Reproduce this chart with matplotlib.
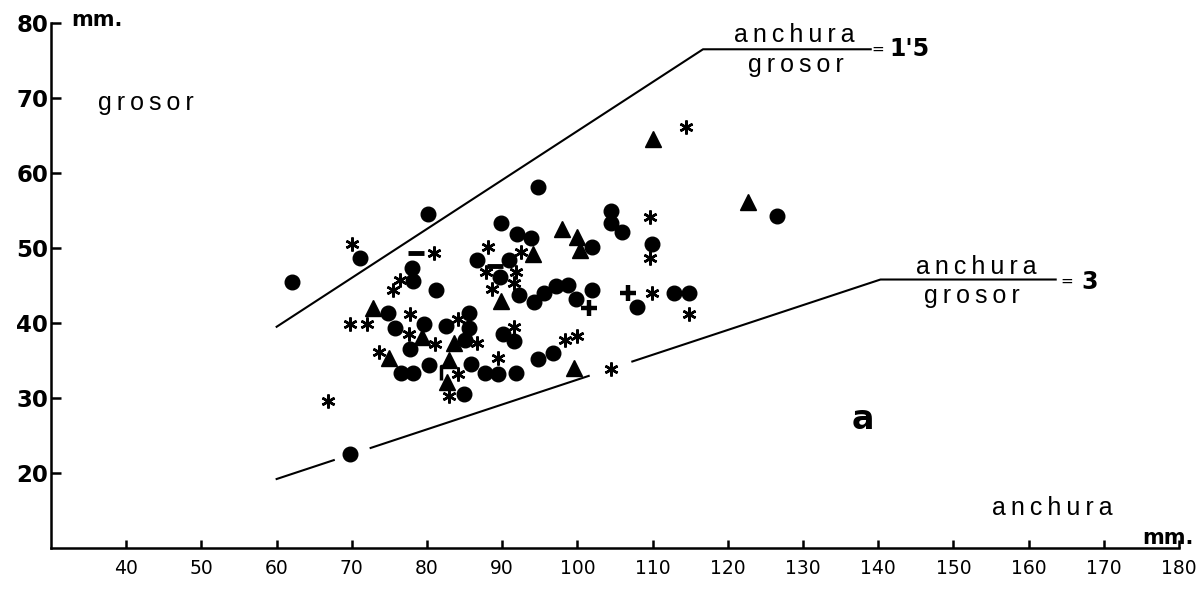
import numpy as np
import matplotlib
matplotlib.use("Agg")
import matplotlib.pyplot as plt
from matplotlib.path import Path

# anchura (x) / grosor (y) en mm, por tipo de símbolo
circ_x = [62.0, 69.7, 71.1, 74.8, 75.7, 76.5, 77.7, 78.0, 78.1, 78.2, 79.6, 80.1, 80.2,
          81.2, 82.5, 84.9, 85.0, 85.6, 85.6, 85.8, 86.6, 87.7, 89.5, 89.7, 89.9, 90.1,
          90.9, 91.5, 91.8, 91.9, 92.2, 93.8, 94.2, 94.7, 94.8, 95.5, 96.7, 97.1, 98.7,
          99.8, 101.9, 102.0, 104.4, 104.5, 105.9, 107.9, 109.9, 112.8, 114.8, 126.5]
circ_y = [45.5, 22.6, 48.7, 41.4, 39.4, 33.3, 36.6, 47.4, 45.6, 33.3, 39.9, 54.6, 34.4,
          44.4, 39.6, 30.5, 37.8, 41.4, 39.4, 34.5, 48.4, 33.3, 33.2, 46.2, 53.4, 38.6,
          48.4, 37.6, 33.3, 51.9, 43.8, 51.4, 42.8, 58.1, 35.2, 44.0, 36.0, 45.0, 45.1,
          43.2, 44.4, 50.2, 54.9, 53.3, 52.1, 42.2, 50.6, 44.0, 44.0, 54.3]

tri_x = [72.8, 74.9, 79.3, 82.6, 82.9, 83.6, 89.9, 94.1, 98.0, 99.6, 99.9, 100.3, 110.0, 122.7]
tri_y = [42.0, 35.3, 38.2, 32.1, 35.1, 37.3, 43.0, 49.2, 52.5, 34.0, 51.5, 49.8, 64.6, 56.1]

ast_x = [66.8, 69.7, 70.0, 72.0, 73.6, 75.5, 76.4, 77.6, 77.8, 80.9, 81.0, 82.9, 84.1,
         84.1, 86.7, 87.8, 88.1, 88.7, 89.5, 91.5, 91.5, 91.8, 92.5, 98.3, 100.0, 104.5,
         109.7, 109.7, 109.9, 114.5, 114.9]
ast_y = [29.6, 39.9, 50.6, 39.9, 36.2, 44.4, 45.8, 38.6, 41.2, 49.4, 37.2, 30.3, 40.5,
         33.2, 37.3, 46.8, 50.2, 44.5, 35.3, 39.5, 45.4, 46.8, 49.5, 37.8, 38.3, 33.9,
         54.1, 48.7, 44.0, 66.1, 41.2]

plus_x = [101.5, 106.7]
plus_y = [42.0, 44.0]

dash_x = [78.5, 89.0]
dash_y = [49.4, 47.6]

brk_x = [81.8]
brk_y = [33.3]

# rectas anchura/grosor = 1'5 y = 3 (puntos de quiebre)
sup_x = [60.0, 116.7, 139.0]
sup_y = [39.5, 76.5, 76.5]
inf_x = [60.0, 140.3, 163.6]
inf_y = [19.2, 45.8, 45.8]
inf_cortes = [(60.0, 67.6), (72.5, 101.5), (107.3, 163.6)]

xticks = [40, 50, 60, 70, 80, 90, 100, 110, 120, 130, 140, 150, 160, 170, 180]
yticks = [20, 30, 40, 50, 60, 70, 80]

plt.rcParams["font.family"] = ["DejaVu Sans"]
word_font = ["Liberation Sans", "DejaVu Sans"]

fig = plt.figure(figsize=(12.01, 5.89), dpi=100)
ax = fig.add_axes([0.0425, 0.0696, 0.9392, 0.8913])
ax.set_xlim(30, 180)
ax.set_ylim(10, 80)

# rectas
ax.plot(sup_x, sup_y, color="black", lw=1.5)
for a, b in inf_cortes:
    xs = [a, b] if b <= inf_x[1] else [a, inf_x[1], b]
    ys = np.interp(xs, inf_x, inf_y)
    ax.plot(xs, ys, color="black", lw=1.5)

# símbolos
ast = (6, 2, 0)
ax.plot(circ_x, circ_y, "o", color="black", ms=10.5, ls="none")
ax.plot(tri_x, tri_y, "^", color="black", ms=11, ls="none")
ax.plot(ast_x, ast_y, marker=ast, color="black", ms=10, mew=1.8, ls="none")
ax.plot(plus_x, plus_y, "+", color="black", ms=11, mew=3.2, ls="none")
ax.plot(dash_x, dash_y, "_", color="black", ms=11, mew=3.5, ls="none")
brk = Path([(0, -1), (0, 1), (0.7, 1)], [Path.MOVETO, Path.LINETO, Path.LINETO])
ax.plot(brk_x, brk_y, marker=brk, color="black", mfc="none", ms=10, mew=2.5, ls="none")

# ejes
for s in ["top", "right"]:
    ax.spines[s].set_visible(False)
for s in ["left", "bottom"]:
    ax.spines[s].set_linewidth(1.8)
ax.set_xticks(xticks)
ax.set_yticks(yticks)
ax.set_xticklabels([str(v) for v in xticks], fontsize=13.5)
ax.set_yticklabels([str(v) for v in yticks], fontsize=16.5, fontweight="bold")
ax.tick_params(axis="x", direction="in", length=6, width=1.8, pad=8)
ax.tick_params(axis="y", direction="in", length=7, width=1.8, pad=2)

# textos (letras espaciadas como en el original)
def spaced(t):
    return "\u2009".join(t)

ax.text(36.3, 69.3, spaced("grosor"), family=word_font, fontsize=18, ha="left", va="center")
ax.text(163.2, 15.3, spaced("anchura"), family=word_font, fontsize=18, ha="center", va="center")
ax.text(32.7, 80.4, "mm.", fontsize=15, fontweight="bold", ha="left", va="center")
ax.text(178.5, 10.6, "mm.", fontsize=15, fontweight="bold", ha="center", va="baseline")
ax.text(137.9, 27.2, "a", fontsize=24, fontweight="bold", ha="center", va="center")

ax.text(128.8, 78.4, spaced("anchura"), family=word_font, fontsize=18, ha="center", va="center")
ax.text(129.1, 74.4, spaced("grosor"), family=word_font, fontsize=18, ha="center", va="center")
ax.text(140.0, 76.5, "=", fontsize=11, ha="center", va="center")
ax.text(141.5, 76.5, "1'5", fontsize=17, fontweight="bold", ha="left", va="center")

ax.text(153.1, 47.5, spaced("anchura"), family=word_font, fontsize=18, ha="center", va="center")
ax.text(152.5, 43.6, spaced("grosor"), family=word_font, fontsize=18, ha="center", va="center")
ax.text(165.1, 45.5, "=", fontsize=11, ha="center", va="center")
ax.text(167.0, 45.5, "3", fontsize=17, fontweight="bold", ha="left", va="center")

plt.savefig("out.png", dpi=100)
